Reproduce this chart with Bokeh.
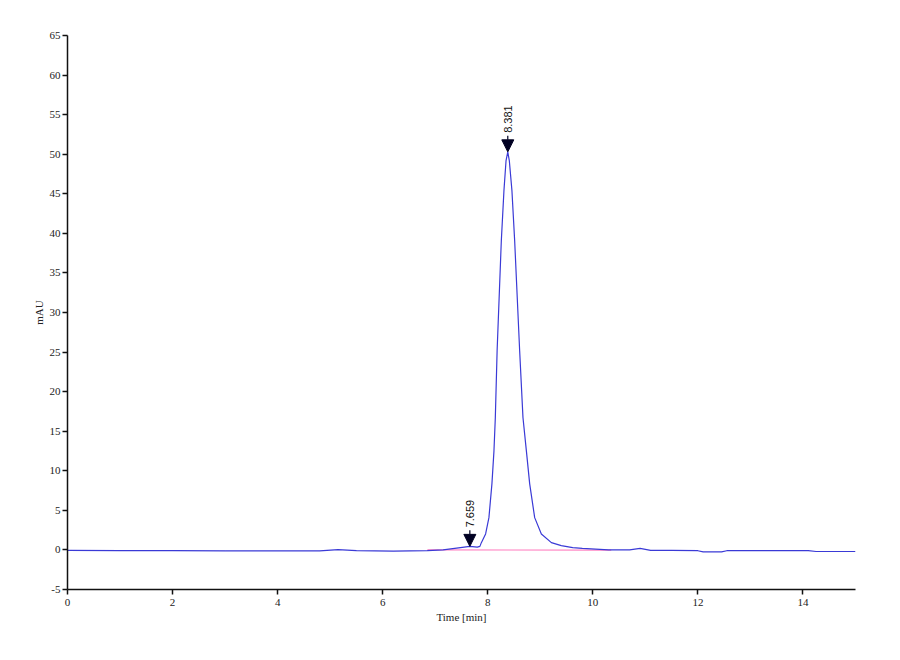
import math
from bokeh.plotting import figure
from bokeh.models import FixedTicker, Arrow, NormalHead, ColumnDataSource
from bokeh.core.properties import value
from bokeh.embed import file_html
from bokeh.resources import INLINE

# ---- data ----
time_min = [0.0, 1.0, 2.0, 3.0, 4.0, 4.8, 5.15, 5.5, 6.2, 6.85, 7.15, 7.48, 7.659, 7.8, 7.85,
            7.878, 7.959, 8.022, 8.079, 8.118, 8.144, 8.178, 8.258, 8.308, 8.348, 8.381,
            8.41, 8.46, 8.512, 8.607, 8.670, 8.735, 8.798, 8.893, 9.02, 9.211, 9.4, 9.617,
            9.8, 10.3, 10.7, 10.9, 11.1, 11.5, 12.0, 12.1, 12.45, 12.55, 14.1, 14.25, 15.0]
mau = [-0.05, -0.1, -0.1, -0.12, -0.12, -0.12, 0.05, -0.1, -0.15, -0.1, 0.0, 0.3, 0.45, 0.35, 0.45,
       0.92, 2.02, 4.08, 8.35, 12.52, 16.73, 25.16, 39.07, 45.4, 49.2, 50.3,
       49.2, 45.4, 39.07, 25.16, 16.73, 12.52, 8.35, 4.08, 2.02, 0.92, 0.55, 0.3,
       0.2, 0.0, 0.0, 0.2, -0.05, -0.05, -0.1, -0.25, -0.25, -0.1, -0.1, -0.2, -0.2]

baseline_time = [6.85, 10.35]
baseline_mau = [0.0, -0.02]

peak_times = [7.659, 8.381]
peak_heights = [0.45, 50.3]
peak_labels = ["7.659", "8.381"]

x_ticks = [0, 2, 4, 6, 8, 10, 12, 14]
y_ticks = [-5, 0, 5, 10, 15, 20, 25, 30, 35, 40, 45, 50, 55, 60, 65]

# ---- figure ----
W, H = 890, 650
LB, RB, TB, BB = 67, 35, 35, 61
y_lo, y_hi = -5, 65
upp = (y_hi - y_lo) / (H - TB - BB)  # data units per pixel (y)

p = figure(width=W, height=H, x_range=(0, 15), y_range=(y_lo, y_hi),
           output_backend="svg", toolbar_location=None,
           min_border_left=LB, min_border_right=RB, min_border_top=TB, min_border_bottom=BB)
p.outline_line_color = None
p.grid.visible = False
p.background_fill_color = "white"
p.border_fill_color = "white"

for ax in (p.xaxis[0], p.yaxis[0]):
    ax.axis_line_color = "#111111"
    ax.axis_line_width = 1.5
    ax.major_tick_line_color = "#111111"
    ax.major_tick_line_width = 1.5
    ax.major_tick_out = 5
    ax.major_tick_in = 0
    ax.minor_tick_line_color = None
    ax.major_label_text_font = "Liberation Serif"
    ax.major_label_text_font_size = "11px"
    ax.major_label_text_color = "#222222"
    ax.axis_label_text_font = "Liberation Serif"
    ax.axis_label_text_font_size = "11px"
    ax.axis_label_text_font_style = "normal"
    ax.axis_label_text_color = "#222222"

p.xaxis.ticker = FixedTicker(ticks=x_ticks)
p.yaxis.ticker = FixedTicker(ticks=y_ticks)
p.yaxis.major_label_overrides = {-5: "-5"}
p.xaxis.major_label_standoff = 4
p.yaxis.major_label_standoff = 2
p.xaxis.axis_label = "Time [min]"
p.yaxis.axis_label = "mAU"
p.xaxis.axis_label_standoff = 2
p.yaxis.axis_label_standoff = 2

# baseline (pink) and trace (blue)
p.line(baseline_time, baseline_mau, line_color="#ff7fc0", line_width=1.2)
p.line(time_min, mau, line_color="#3a3ad6", line_width=1.2)

# peak markers
for t, h in zip(peak_times, peak_heights):
    p.add_layout(Arrow(x_start=t, y_start=h + 16 * upp, x_end=t, y_end=h,
                       line_color="#000022", line_width=1.2,
                       end=NormalHead(size=12, fill_color="#000022", line_color="#000022")))

src = ColumnDataSource(dict(x=peak_times,
                            y=[h + 19 * upp for h in peak_heights],
                            t=peak_labels))
p.text(x="x", y="y", text="t", source=src, angle=math.pi / 2,
       text_align="left", text_baseline="middle",
       text_font=value("Liberation Sans"), text_font_size="11px", text_color="#111111")

open("out.html", "w").write(file_html(p, INLINE))
